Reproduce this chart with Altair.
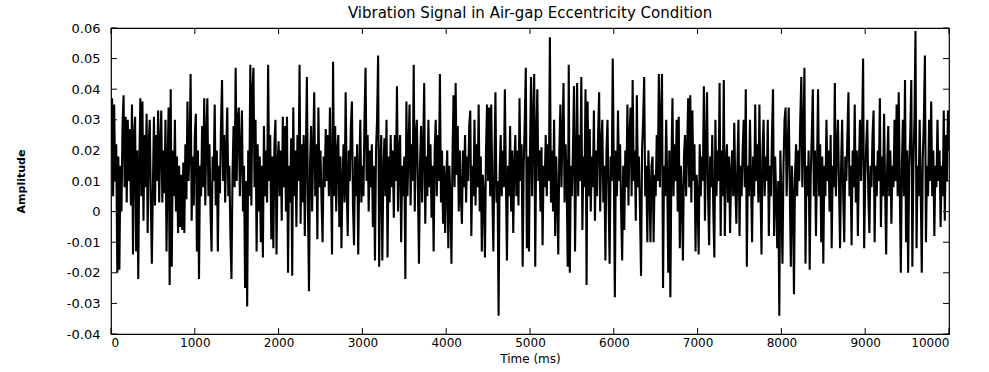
import altair as alt
import pandas as pd

title_text = "Vibration Signal in Air-gap Eccentricity Condition"
x_title = "Time (ms)"
y_title = "Amplitude"
x_ticks = [0, 1000, 2000, 3000, 4000, 5000, 6000, 7000, 8000, 9000, 10000]
y_ticks = [-0.04, -0.03, -0.02, -0.01, 0, 0.01, 0.02, 0.03, 0.04, 0.05, 0.06]

# sample spacing in ms, amplitudes below are in units of 0.001
dt = 12.5
seg_00 = [22, 37, 5, 35, 10, 22, -20, 18, -19, 15, 0, 28, 38, 8, 31, 3, 30, 10, 27, 2,
          35, -14, 25, 31, -13, 20, -22, 15, 37, 5, 36, -3, 25, 8, 32, -7, 22, 30, 3, -17]
seg_01 = [8, 31, 2, 25, 10, 33, 3, 22, 33, 3, 20, 6, 30, -13, 15, 34, -24, 40, -18, 20,
          5, 30, 0, 18, -7, 15, -5, 12, -6, 16, -7, 22, 4, 36, 10, 20, 45, -3, 18, 2]
seg_02 = [25, 32, -13, 20, -22, 15, 5, 28, 8, 37, 2, 25, 37, 5, 22, 0, -13, 18, 10, 35,
          2, 20, -13, 15, 6, 28, 43, 10, 25, 3, 20, 34, 5, 15, -8, -22, 12, 28, 8, 47]
seg_03 = [10, 30, 34, 5, 20, 33, 0, 15, -25, 10, -31, 20, 5, 48, 2, 40, 47, 8, 30, -13,
          22, 0, 18, -10, 15, -15, 28, 5, 20, 3, 48, 10, 25, -9, 18, -12, 22, 30, -14, 15]
seg_04 = [23, 5, 20, -3, 31, 8, 28, 0, 31, -20, 15, 3, 24, -21, 34, 5, 20, -5, 25, 10,
          48, -4, 22, 3, 25, -8, 18, 44, 2, -26, 15, 28, 0, 20, 39, 5, 22, -9, 34, 8]
seg_05 = [20, 3, -10, 18, 8, 27, 10, 25, 5, 34, 12, -14, 49, 5, 28, 0, 20, 25, -5, 18,
          -12, 10, 22, 3, 39, 8, -8, 20, 10, 28, 36, 2, -11, 18, 5, 22, -14, 12, 30, 3]
seg_06 = [15, 5, 30, 47, 10, 25, 0, 20, 8, 22, -5, 15, -16, 20, 30, 51, -18, 15, 25, -16,
          12, 24, 5, 30, -15, 18, 3, 25, 8, 20, -2, 25, 10, 41, 0, 20, 25, -10, 15, 5]
seg_07 = [18, -22, 36, 5, 20, 35, 2, 22, 10, 48, 0, 25, 30, 8, -17, 15, 28, 3, 20, 42,
          -4, 18, 5, 30, 8, 22, -2, 15, -13, 20, 30, 5, 25, 10, 45, 3, 20, -4, 15, -7]
seg_08 = [10, 20, -12, 15, 5, -17, 18, 38, 8, 42, 12, 28, 0, 20, 5, -4, 20, 8, 25, 3,
          18, 10, 28, 33, -8, 15, 5, 30, 2, 22, 8, 35, 0, 18, -13, 12, 5, -15, 20, 35]
seg_09 = [10, 34, 5, 35, 8, -13, 15, 39, 3, 10, -34, 12, 25, 5, 20, 8, 40, 10, -16, 15,
          5, 28, 0, 20, -7, 15, 25, 5, 20, 2, 37, 10, 22, -18, 15, 30, 47, -12, 18, -13]
seg_10 = [20, 44, 5, 30, 45, -18, 25, 40, 10, 20, 0, 21, -11, 15, 8, 25, 5, 22, 10, 57,
          3, 20, 0, 30, -8, 18, 5, -14, 20, 35, 8, 25, 42, 3, 22, 10, -18, 48, -20, 15]
seg_11 = [5, 20, 41, -13, 15, 42, 5, 25, 10, 44, -6, 18, 8, 40, -24, 36, 5, 27, 0, 18,
          8, 33, -3, 20, 5, 25, 39, 0, 22, 30, 3, 15, -16, 20, 30, 5, -17, 18, 10, 50]
seg_12 = [15, -28, 20, 5, 33, 10, 22, 0, -16, 15, -6, 20, 8, 35, 2, 25, 34, 5, 43, 10,
          20, -3, 38, 8, 18, 0, -21, 20, 30, 44, 5, 15, -10, 20, 8, -10, 15, 18, -10, 12]
seg_13 = [5, 25, 10, 45, 8, 30, 45, -25, 15, 5, 30, 10, -20, 20, -28, 15, 37, 5, 22, 10,
          30, 0, 31, -12, 15, 5, -16, 18, 25, 5, 20, 37, 8, 38, 3, 33, 10, 22, -13, 12]
seg_14 = [5, -14, 22, 5, 18, 10, 41, -3, 20, 39, 5, -11, 18, 8, 25, 0, -15, 30, 5, 20,
          10, 42, -8, 20, 5, 43, -8, 15, 22, 3, 18, -7, 12, 20, 5, 29, 8, -4, 15, 30]
seg_15 = [-8, 15, 5, 20, 30, 8, 40, -18, 15, 5, 30, 10, -10, 18, 5, 35, 10, 22, 3, 35,
          8, -14, 20, 30, 5, 18, 10, 30, -8, 15, 5, 25, 40, -8, 18, 5, -12, 10, -34, 20]
seg_16 = [5, -17, 15, 30, 34, 5, 20, 34, 8, -18, 15, 5, -27, 12, 22, 5, 20, 10, 30, 44,
          8, 25, 47, -17, 15, 5, 20, -19, 12, 25, 40, 5, 20, -8, 15, 40, 5, 22, -10, 18]
seg_17 = [-17, 15, 5, 30, 10, 20, 0, 25, -12, 15, 8, 42, 5, 20, 30, 8, -12, 15, 30, 5,
          -10, 18, 10, 25, 39, 5, 15, -11, 20, 8, 35, 3, 20, -8, 15, 30, 10, 25, 50, -12]
seg_18 = [10, 22, 30, 5, -7, 15, 8, 25, 33, -10, 15, 5, 20, 10, 37, -5, 18, 5, 32, 8,
          -14, 15, 28, 5, 20, -4, 15, 8, 30, 10, 35, 5, 39, 8, -20, 15, 30, 5, 43, -10]
seg_19 = [20, -20, 15, 25, 43, -18, 15, 30, 59, -12, 15, 5, 30, 8, -20, 18, 30, 51, -10, 15,
          5, 30, 10, 36, 5, 20, -8, 15, 8, 30, 10, 20, -5, 15, 5, 33, -3, 25, 10, 33, 20]

segments = [seg_00, seg_01, seg_02, seg_03, seg_04, seg_05, seg_06, seg_07, seg_08, seg_09,
            seg_10, seg_11, seg_12, seg_13, seg_14, seg_15, seg_16, seg_17, seg_18, seg_19]
milli = [v for s in segments for v in s]
df = pd.DataFrame({"t": [i * dt for i in range(len(milli))],
                   "amp": [v / 1000 for v in milli]})

W, H = 838, 306
FONT = "DejaVu Sans"
x_scale = alt.Scale(domain=[0, 10000], nice=False)
y_scale = alt.Scale(domain=[-0.04, 0.06], nice=False, zero=False)

y_label_expr = ("datum.value == 0 ? '0' : (datum.value < 0 ? '-' + format(-datum.value, '.2f')"
                " : format(datum.value, '.2f'))")

x_axis = alt.Axis(values=x_ticks, format="d", title=x_title, ticks=False, tickSize=0,
                  domain=False, grid=False, labelPadding=3, labelFont=FONT,
                  labelFontSize=12, labelColor="black", titleFont=FONT,
                  titleFontSize=12, titleFontWeight="normal", titleColor="black",
                  titleY=24, titleBaseline="middle")
y_axis = alt.Axis(values=y_ticks, labelExpr=y_label_expr, title=y_title, ticks=False,
                  tickSize=0, domain=False, grid=False, labelPadding=11,
                  labelFont=FONT, labelFontSize=13, labelColor="black",
                  titleFont=FONT, titleFontSize=11, titleFontWeight="bold",
                  titleColor="black", titleX=-90, titleY=H / 2, titleAngle=270,
                  titleAlign="center", titleBaseline="middle")
X = alt.X("t:Q", scale=x_scale, axis=x_axis, title=x_title)
Y = alt.Y("amp:Q", scale=y_scale, axis=y_axis, title=y_title)

line = alt.Chart(df).mark_line(color="black", strokeWidth=2.1, clip=True).encode(x=X, y=Y)

xt = pd.DataFrame({"t": x_ticks})
yt = pd.DataFrame({"amp": y_ticks})
tick_len = 6
bottom_ticks = alt.Chart(xt).mark_rule(color="black").encode(
    x=X, y=alt.value(H), y2=alt.value(H - tick_len))
top_ticks = alt.Chart(xt).mark_rule(color="black").encode(
    x=X, y=alt.value(0), y2=alt.value(tick_len))
left_ticks = alt.Chart(yt).mark_rule(color="black").encode(
    y=Y, x=alt.value(0), x2=alt.value(tick_len))
right_ticks = alt.Chart(yt).mark_rule(color="black").encode(
    y=Y, x=alt.value(W), x2=alt.value(W - tick_len))

chart = alt.layer(line, bottom_ticks, top_ticks, left_ticks, right_ticks).properties(
    width=W, height=H,
    title=alt.Title(title_text, font=FONT, fontSize=15, fontWeight="normal", color="black",
                    anchor="middle", offset=1),
    padding={"left": 111, "top": 28, "right": 40, "bottom": 38},
    autosize=alt.AutoSizeParams(type="none"),
    background="white",
).configure_view(stroke="black", strokeWidth=1.2)

chart.save("out.html", embed_options={"renderer": "svg", "actions": False})
